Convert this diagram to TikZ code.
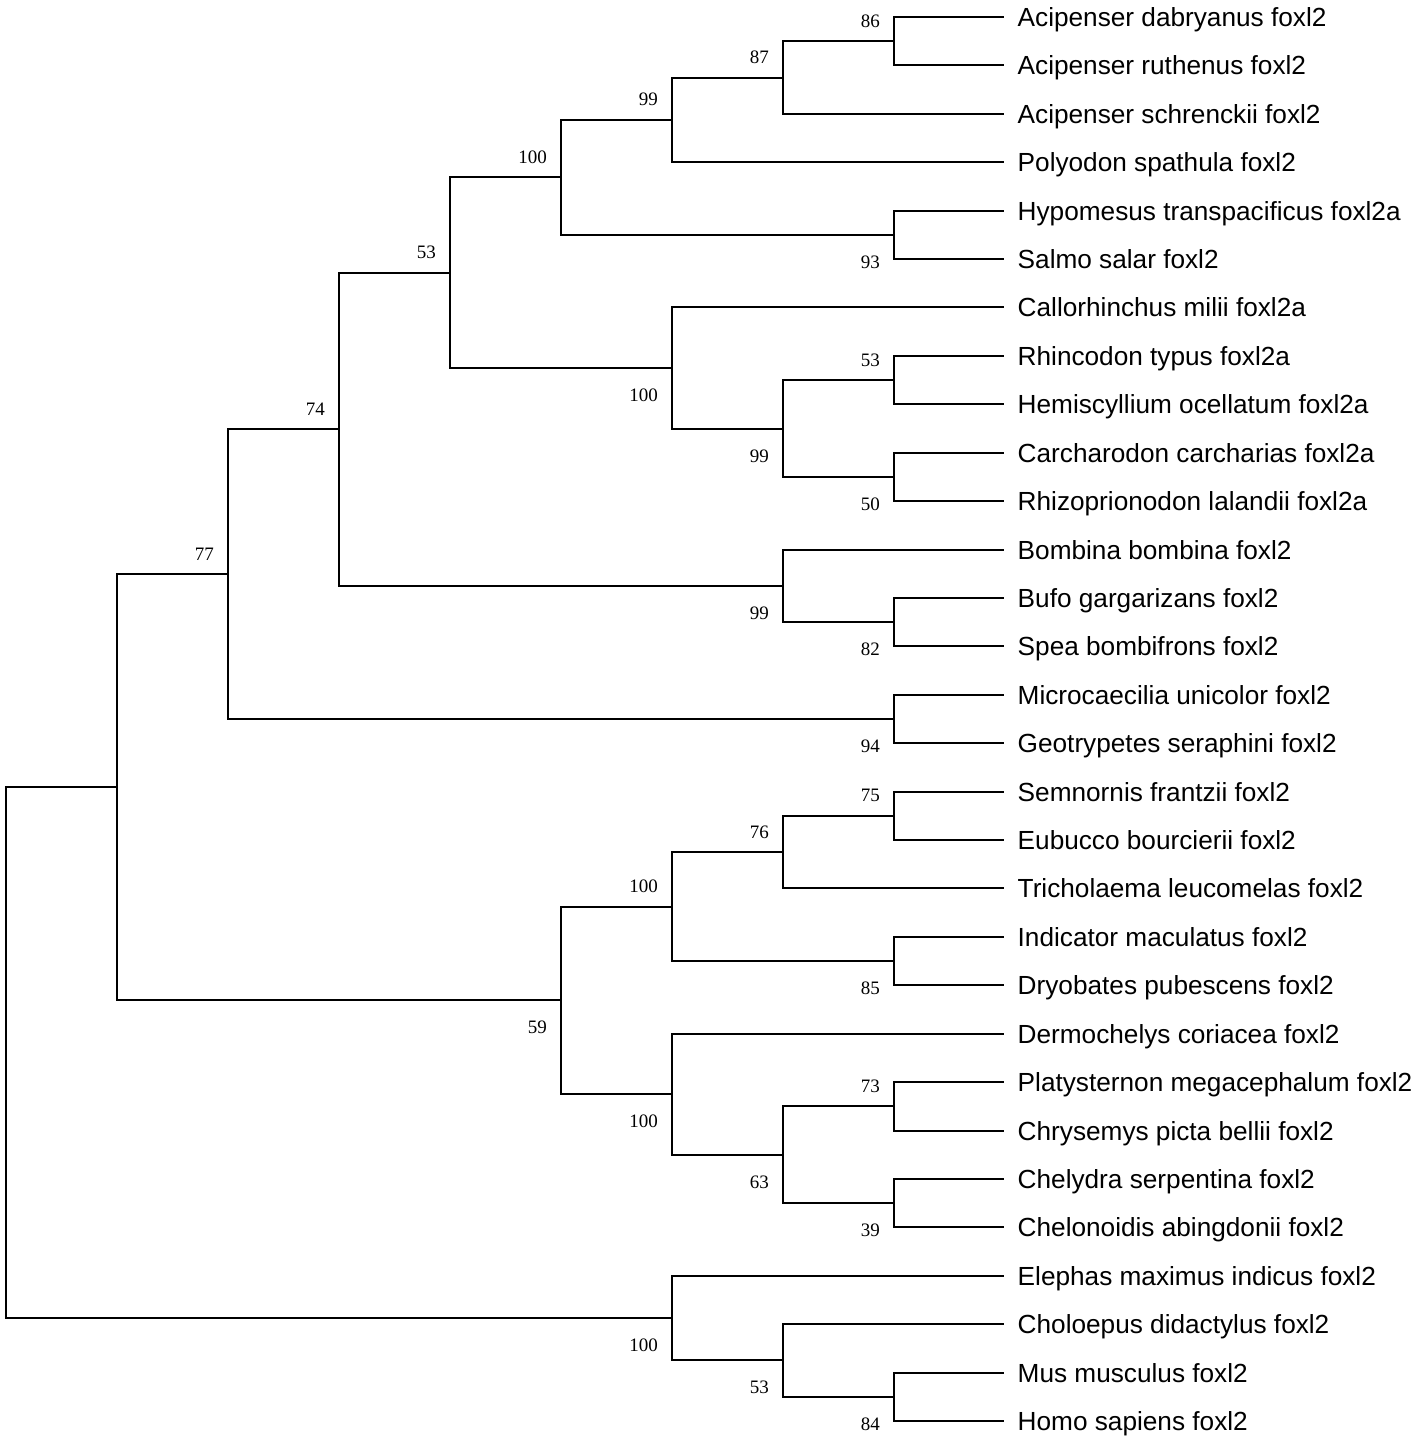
\documentclass[tikz,border=0pt]{standalone}
\usepackage{fontspec}
\setmainfont{Liberation Serif}
\newfontfamily\leaffont{Liberation Sans}
\begin{document}
\begin{tikzpicture}[x=1pt,y=-1pt,
  br/.style={draw=black,line width=2pt,line cap=rect},
  leaf/.style={anchor=base west,inner sep=0pt,font=\leaffont\fontsize{26.2}{30}\selectfont},
  bsa/.style={anchor=base east,inner sep=0pt,font=\fontsize{19}{22}\selectfont},
  bsb/.style={anchor=base east,inner sep=0pt,font=\fontsize{19}{22}\selectfont}]
\useasboundingbox (0,0) rectangle (1417,1442);
% leaf tips
\coordinate (l1) at (1003,17);
\coordinate (l2) at (1003,65.41);
\coordinate (l3) at (1003,113.83);
\coordinate (l4) at (1003,162.24);
\coordinate (l5) at (1003,210.66);
\coordinate (l6) at (1003,259.07);
\coordinate (l7) at (1003,307.48);
\coordinate (l8) at (1003,355.90);
\coordinate (l9) at (1003,404.31);
\coordinate (l10) at (1003,452.72);
\coordinate (l11) at (1003,501.14);
\coordinate (l12) at (1003,549.55);
\coordinate (l13) at (1003,597.97);
\coordinate (l14) at (1003,646.38);
\coordinate (l15) at (1003,694.79);
\coordinate (l16) at (1003,743.21);
\coordinate (l17) at (1003,791.62);
\coordinate (l18) at (1003,840.03);
\coordinate (l19) at (1003,888.45);
\coordinate (l20) at (1003,936.86);
\coordinate (l21) at (1003,985.28);
\coordinate (l22) at (1003,1033.69);
\coordinate (l23) at (1003,1082.10);
\coordinate (l24) at (1003,1130.52);
\coordinate (l25) at (1003,1178.93);
\coordinate (l26) at (1003,1227.34);
\coordinate (l27) at (1003,1275.76);
\coordinate (l28) at (1003,1324.17);
\coordinate (l29) at (1003,1372.59);
\coordinate (l30) at (1003,1421);
% internal nodes
\coordinate (H) at (894,41.21);
\coordinate (G) at (783,77.52);
\coordinate (F) at (672,119.88);
\coordinate (I) at (894,234.86);
\coordinate (E) at (561,177.37);
\coordinate (L) at (894,380.10);
\coordinate (M) at (894,476.93);
\coordinate (K) at (783,428.52);
\coordinate (J) at (672,368.00);
\coordinate (D) at (450,272.68);
\coordinate (O) at (894,622.17);
\coordinate (N) at (783,585.86);
\coordinate (C) at (339,429.27);
\coordinate (P) at (894,719.00);
\coordinate (B) at (228,574.14);
\coordinate (T) at (894,815.83);
\coordinate (S) at (783,852.14);
\coordinate (U) at (894,961.07);
\coordinate (R) at (672,906.60);
\coordinate (X) at (894,1106.31);
\coordinate (Y) at (894,1203.14);
\coordinate (W) at (783,1154.72);
\coordinate (V) at (672,1094.21);
\coordinate (Q) at (561,1000.40);
\coordinate (A) at (117,787.27);
\coordinate (AB) at (894,1396.79);
\coordinate (AA) at (783,1360.48);
\coordinate (Z) at (672,1318.12);
\coordinate (root) at (6,1052.70);
% branches
\draw[br] (root) |- (A); \draw[br] (root) |- (Z);
\draw[br] (A) |- (B); \draw[br] (A) |- (Q);
\draw[br] (B) |- (C); \draw[br] (B) |- (P);
\draw[br] (C) |- (D); \draw[br] (C) |- (N);
\draw[br] (D) |- (E); \draw[br] (D) |- (J);
\draw[br] (E) |- (F); \draw[br] (E) |- (I);
\draw[br] (F) |- (G); \draw[br] (F) |- (l4);
\draw[br] (G) |- (H); \draw[br] (G) |- (l3);
\draw[br] (H) |- (l1); \draw[br] (H) |- (l2);
\draw[br] (I) |- (l5); \draw[br] (I) |- (l6);
\draw[br] (J) |- (l7); \draw[br] (J) |- (K);
\draw[br] (K) |- (L); \draw[br] (K) |- (M);
\draw[br] (L) |- (l8); \draw[br] (L) |- (l9);
\draw[br] (M) |- (l10); \draw[br] (M) |- (l11);
\draw[br] (N) |- (l12); \draw[br] (N) |- (O);
\draw[br] (O) |- (l13); \draw[br] (O) |- (l14);
\draw[br] (P) |- (l15); \draw[br] (P) |- (l16);
\draw[br] (Q) |- (R); \draw[br] (Q) |- (V);
\draw[br] (R) |- (S); \draw[br] (R) |- (U);
\draw[br] (S) |- (T); \draw[br] (S) |- (l19);
\draw[br] (T) |- (l17); \draw[br] (T) |- (l18);
\draw[br] (U) |- (l20); \draw[br] (U) |- (l21);
\draw[br] (V) |- (l22); \draw[br] (V) |- (W);
\draw[br] (W) |- (X); \draw[br] (W) |- (Y);
\draw[br] (X) |- (l23); \draw[br] (X) |- (l24);
\draw[br] (Y) |- (l25); \draw[br] (Y) |- (l26);
\draw[br] (Z) |- (l27); \draw[br] (Z) |- (AA);
\draw[br] (AA) |- (l28); \draw[br] (AA) |- (AB);
\draw[br] (AB) |- (l29); \draw[br] (AB) |- (l30);
% leaf labels
\node[leaf] (t1) at ([xshift=14.5pt,yshift=-9.5pt]l1) {Acipenser dabryanus foxl2};
\node[leaf] (t2) at ([xshift=14.5pt,yshift=-9.5pt]l2) {Acipenser ruthenus foxl2};
\node[leaf] (t3) at ([xshift=14.5pt,yshift=-9.5pt]l3) {Acipenser schrenckii foxl2};
\node[leaf] (t4) at ([xshift=14.5pt,yshift=-9.5pt]l4) {Polyodon spathula foxl2};
\node[leaf] (t5) at ([xshift=14.5pt,yshift=-9.5pt]l5) {Hypomesus transpacificus foxl2a};
\node[leaf] (t6) at ([xshift=14.5pt,yshift=-9.5pt]l6) {Salmo salar foxl2};
\node[leaf] (t7) at ([xshift=14.5pt,yshift=-9.5pt]l7) {Callorhinchus milii foxl2a};
\node[leaf] (t8) at ([xshift=14.5pt,yshift=-9.5pt]l8) {Rhincodon typus foxl2a};
\node[leaf] (t9) at ([xshift=14.5pt,yshift=-9.5pt]l9) {Hemiscyllium ocellatum foxl2a};
\node[leaf] (t10) at ([xshift=14.5pt,yshift=-9.5pt]l10) {Carcharodon carcharias foxl2a};
\node[leaf] (t11) at ([xshift=14.5pt,yshift=-9.5pt]l11) {Rhizoprionodon lalandii foxl2a};
\node[leaf] (t12) at ([xshift=14.5pt,yshift=-9.5pt]l12) {Bombina bombina foxl2};
\node[leaf] (t13) at ([xshift=14.5pt,yshift=-9.5pt]l13) {Bufo gargarizans foxl2};
\node[leaf] (t14) at ([xshift=14.5pt,yshift=-9.5pt]l14) {Spea bombifrons foxl2};
\node[leaf] (t15) at ([xshift=14.5pt,yshift=-9.5pt]l15) {Microcaecilia unicolor foxl2};
\node[leaf] (t16) at ([xshift=14.5pt,yshift=-9.5pt]l16) {Geotrypetes seraphini foxl2};
\node[leaf] (t17) at ([xshift=14.5pt,yshift=-9.5pt]l17) {Semnornis frantzii foxl2};
\node[leaf] (t18) at ([xshift=14.5pt,yshift=-9.5pt]l18) {Eubucco bourcierii foxl2};
\node[leaf] (t19) at ([xshift=14.5pt,yshift=-9.5pt]l19) {Tricholaema leucomelas foxl2};
\node[leaf] (t20) at ([xshift=14.5pt,yshift=-9.5pt]l20) {Indicator maculatus foxl2};
\node[leaf] (t21) at ([xshift=14.5pt,yshift=-9.5pt]l21) {Dryobates pubescens foxl2};
\node[leaf] (t22) at ([xshift=14.5pt,yshift=-9.5pt]l22) {Dermochelys coriacea foxl2};
\node[leaf] (t23) at ([xshift=14.5pt,yshift=-9.5pt]l23) {Platysternon megacephalum foxl2};
\node[leaf] (t24) at ([xshift=14.5pt,yshift=-9.5pt]l24) {Chrysemys picta bellii foxl2};
\node[leaf] (t25) at ([xshift=14.5pt,yshift=-9.5pt]l25) {Chelydra serpentina foxl2};
\node[leaf] (t26) at ([xshift=14.5pt,yshift=-9.5pt]l26) {Chelonoidis abingdonii foxl2};
\node[leaf] (t27) at ([xshift=14.5pt,yshift=-9.5pt]l27) {Elephas maximus indicus foxl2};
\node[leaf] (t28) at ([xshift=14.5pt,yshift=-9.5pt]l28) {Choloepus didactylus foxl2};
\node[leaf] (t29) at ([xshift=14.5pt,yshift=-9.5pt]l29) {Mus musculus foxl2};
\node[leaf] (t30) at ([xshift=14.5pt,yshift=-9.5pt]l30) {Homo sapiens foxl2};
% bootstrap values (above: shift up 14, below: shift down 33.5)
\node[bsa] (bH) at ([xshift=-14pt,yshift=14pt]H) {86};
\node[bsa] (bG) at ([xshift=-14pt,yshift=14pt]G) {87};
\node[bsa] (bF) at ([xshift=-14pt,yshift=14pt]F) {99};
\node[bsa] (bE) at ([xshift=-14pt,yshift=14pt]E) {100};
\node[bsa] (bD) at ([xshift=-14pt,yshift=14pt]D) {53};
\node[bsa] (bC) at ([xshift=-14pt,yshift=14pt]C) {74};
\node[bsa] (bB) at ([xshift=-14pt,yshift=14pt]B) {77};
\node[bsb] (bI) at ([xshift=-14pt,yshift=-33.5pt]I) {93};
\node[bsb] (bJ) at ([xshift=-14pt,yshift=-33.5pt]J) {100};
\node[bsb] (bK) at ([xshift=-14pt,yshift=-33.5pt]K) {99};
\node[bsa] (bL) at ([xshift=-14pt,yshift=14pt]L) {53};
\node[bsb] (bM) at ([xshift=-14pt,yshift=-33.5pt]M) {50};
\node[bsb] (bN) at ([xshift=-14pt,yshift=-33.5pt]N) {99};
\node[bsb] (bO) at ([xshift=-14pt,yshift=-33.5pt]O) {82};
\node[bsb] (bP) at ([xshift=-14pt,yshift=-33.5pt]P) {94};
\node[bsa] (bT) at ([xshift=-14pt,yshift=14pt]T) {75};
\node[bsa] (bS) at ([xshift=-14pt,yshift=14pt]S) {76};
\node[bsa] (bR) at ([xshift=-14pt,yshift=14pt]R) {100};
\node[bsb] (bU) at ([xshift=-14pt,yshift=-33.5pt]U) {85};
\node[bsb] (bQ) at ([xshift=-14pt,yshift=-33.5pt]Q) {59};
\node[bsb] (bV) at ([xshift=-14pt,yshift=-33.5pt]V) {100};
\node[bsa] (bX) at ([xshift=-14pt,yshift=14pt]X) {73};
\node[bsb] (bW) at ([xshift=-14pt,yshift=-33.5pt]W) {63};
\node[bsb] (bY) at ([xshift=-14pt,yshift=-33.5pt]Y) {39};
\node[bsb] (bZ) at ([xshift=-14pt,yshift=-33.5pt]Z) {100};
\node[bsb] (bAA) at ([xshift=-14pt,yshift=-33.5pt]AA) {53};
\node[bsb] (bAB) at ([xshift=-14pt,yshift=-33.5pt]AB) {84};
\end{tikzpicture}
\end{document}
